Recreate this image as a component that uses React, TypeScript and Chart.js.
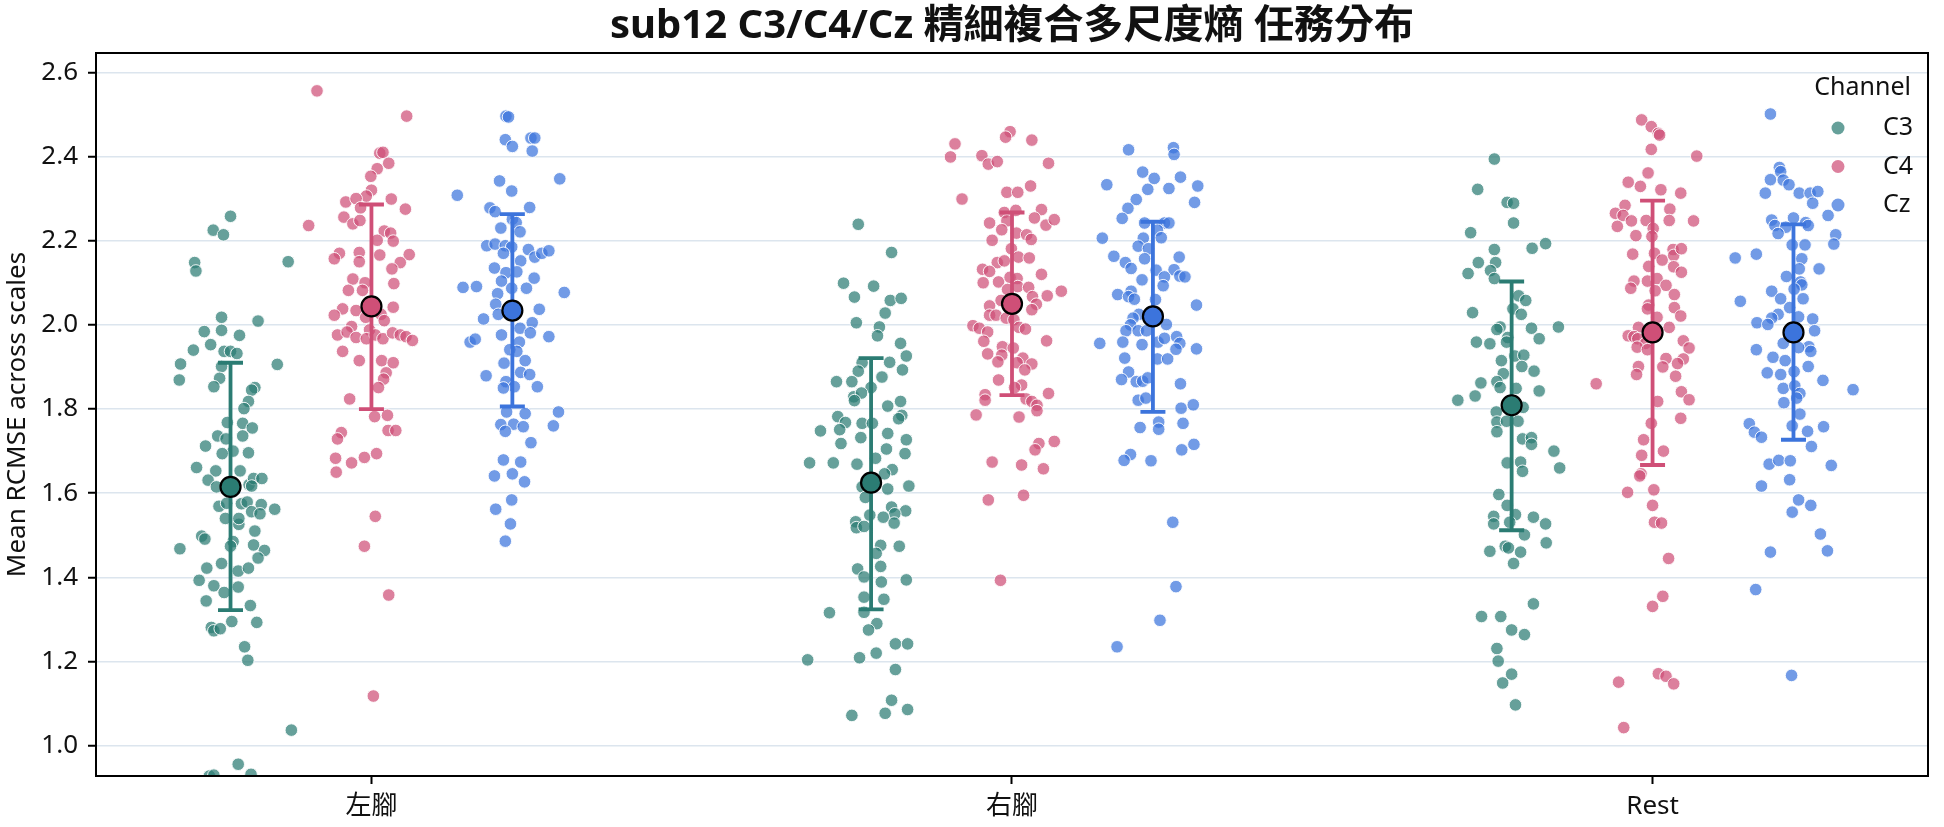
import { useEffect, useRef } from 'react';
import { Chart, registerables } from 'chart.js';

Chart.register(...registerables);

const FONT = "'Noto Sans', 'Noto Sans CJK TC', sans-serif";
const TITLE = 'sub12 C3/C4/Cz 精細複合多尺度熵 任務分布';
const Y_LABEL = 'Mean RCMSE across scales';
const LEGEND_TITLE = 'Channel';
const CATEGORIES = ['左腳', '右腳', 'Rest'];
const CHANNELS = ['C3', 'C4', 'Cz'];
const Y_TICKS = [1.0, 1.2, 1.4, 1.6, 1.8, 2.0, 2.2, 2.4, 2.6];

// each point: [jitter (category units), value]
const C3_LEFT: [number, number][] = [[0,2.258],[-0.027,2.225],[-0.011,2.214],[-0.056,2.148],[-0.054,2.128],[0.090,2.150],[-0.014,2.018],[0.043,2.009],[-0.041,1.984],[-0.014,1.987],[0.014,1.975],[-0.058,1.940],[-0.031,1.953],[-0.010,1.937],[0,1.937],[0.010,1.932],[-0.078,1.907],[-0.080,1.869],[-0.014,1.901],[-0.017,1.873],[-0.026,1.853],[0.073,1.906],[0.038,1.851],[0.033,1.845],[0.028,1.818],[0.021,1.801],[-0.005,1.768],[0.019,1.766],[0.034,1.755],[-0.020,1.736],[0.019,1.736],[-0.007,1.729],[-0.039,1.712],[0.004,1.700],[-0.013,1.694],[0.028,1.696],[-0.053,1.661],[-0.023,1.653],[0.015,1.653],[-0.035,1.631],[-0.022,1.615],[0.029,1.620],[0.036,1.635],[0.049,1.635],[0.033,1.617],[-0.018,1.569],[-0.006,1.576],[0.017,1.575],[0.026,1.579],[0.048,1.573],[0.069,1.562],[0.033,1.556],[0.046,1.551],[-0.008,1.540],[0.013,1.526],[0.013,1.540],[0.038,1.510],[-0.045,1.498],[-0.040,1.491],[-0.079,1.468],[0.004,1.485],[0,1.474],[0.036,1.477],[0.053,1.464],[0.043,1.446],[-0.014,1.433],[-0.037,1.422],[0.012,1.415],[0.028,1.422],[-0.049,1.393],[-0.026,1.380],[-0.010,1.364],[0.012,1.377],[-0.038,1.344],[0.031,1.333],[0.002,1.295],[0.041,1.293],[-0.030,1.281],[-0.026,1.273],[-0.016,1.278],[0.022,1.235],[0.027,1.203],[0.095,1.037],[0.012,0.956],[-0.033,0.928],[-0.026,0.930],[0.032,0.932]];
const C4_LEFT: [number, number][] = [[-0.085,2.556],[0.055,2.496],[0.013,2.408],[0.018,2.410],[0.027,2.384],[0.009,2.371],[-0.001,2.353],[0,2.320],[0.031,2.299],[-0.008,2.306],[-0.040,2.292],[-0.024,2.300],[-0.017,2.278],[0.053,2.275],[-0.043,2.256],[-0.029,2.240],[-0.018,2.248],[-0.098,2.236],[0.020,2.223],[0.030,2.218],[0.009,2.201],[0.034,2.199],[-0.050,2.170],[-0.058,2.157],[-0.019,2.172],[-0.019,2.150],[0.013,2.166],[0.059,2.167],[0.045,2.148],[0.032,2.133],[-0.029,2.109],[-0.010,2.100],[0.035,2.098],[-0.036,2.082],[-0.014,2.082],[-0.045,2.038],[-0.058,2.023],[-0.024,2.034],[0.034,2.042],[0.015,2.025],[-0.009,2.018],[-0.031,1.996],[0.020,2.010],[-0.053,1.976],[-0.038,1.983],[-0.024,1.970],[-0.003,1.988],[-0.008,1.967],[0.006,1.976],[0.018,1.967],[0.033,1.981],[0.045,1.976],[0.054,1.972],[0.064,1.963],[-0.045,1.937],[-0.019,1.915],[0.016,1.915],[0.034,1.910],[0.023,1.886],[0.019,1.871],[0.011,1.851],[-0.034,1.824],[0.005,1.782],[0.025,1.785],[0.026,1.749],[0.038,1.749],[-0.047,1.744],[-0.053,1.729],[-0.056,1.683],[-0.031,1.672],[-0.011,1.685],[0.008,1.694],[-0.055,1.650],[0.006,1.545],[-0.011,1.474],[0.027,1.358],[0.003,1.118]];
const CZ_LEFT: [number, number][] = [[-0.010,2.496],[-0.006,2.494],[-0.011,2.440],[0,2.424],[0.029,2.444],[0.035,2.444],[0.031,2.413],[-0.020,2.342],[0.074,2.347],[-0.086,2.308],[-0.001,2.318],[-0.035,2.278],[-0.027,2.269],[0.027,2.279],[0,2.251],[0.006,2.243],[-0.018,2.230],[0.012,2.221],[-0.040,2.188],[-0.027,2.192],[-0.011,2.188],[-0.001,2.185],[-0.014,2.170],[0.025,2.179],[0.013,2.152],[0.035,2.161],[0.046,2.170],[0.057,2.176],[-0.028,2.135],[-0.010,2.124],[0.007,2.126],[0.034,2.111],[-0.017,2.104],[-0.001,2.087],[-0.077,2.089],[-0.056,2.091],[0.022,2.087],[0.081,2.077],[-0.023,2.074],[-0.026,2.049],[-0.022,2.025],[0.042,2.037],[-0.045,2.014],[0.031,2.005],[0.012,1.992],[0.028,1.981],[-0.017,1.976],[-0.066,1.959],[-0.058,1.966],[0.011,1.959],[0.057,1.972],[-0.004,1.941],[0.007,1.937],[-0.013,1.909],[0.020,1.915],[-0.041,1.879],[0.013,1.887],[0.027,1.882],[-0.010,1.865],[0.003,1.853],[0.039,1.853],[-0.014,1.850],[-0.009,1.793],[0.020,1.789],[0.072,1.793],[-0.018,1.763],[0.002,1.764],[0.017,1.758],[-0.011,1.747],[0.064,1.760],[0.029,1.720],[-0.014,1.679],[0.013,1.674],[-0.028,1.641],[0,1.646],[0.019,1.627],[-0.001,1.584],[-0.026,1.562],[-0.003,1.527],[-0.011,1.486]];
const C3_RIGHT: [number, number][] = [[-0.020,2.239],[0.032,2.172],[-0.043,2.099],[0.004,2.092],[-0.026,2.066],[0.030,2.058],[0.047,2.063],[0.022,2.028],[-0.023,2.005],[0.013,1.995],[0.010,1.974],[0.046,1.956],[0.055,1.926],[-0.014,1.910],[0.029,1.911],[0.049,1.893],[-0.020,1.890],[0.017,1.876],[-0.054,1.865],[-0.030,1.865],[0,1.851],[-0.027,1.829],[-0.015,1.838],[-0.026,1.820],[0.046,1.818],[0.026,1.807],[0.048,1.785],[-0.052,1.782],[-0.040,1.768],[-0.014,1.766],[0.002,1.766],[0.043,1.777],[-0.079,1.748],[-0.049,1.751],[0.026,1.742],[-0.047,1.718],[-0.016,1.732],[0.055,1.727],[0.024,1.705],[0.053,1.694],[0.007,1.683],[-0.096,1.672],[-0.059,1.672],[-0.022,1.669],[0.033,1.656],[0.021,1.646],[-0.014,1.615],[0.026,1.610],[0.059,1.617],[-0.009,1.590],[0.032,1.567],[0.054,1.558],[0.037,1.551],[-0.002,1.548],[0.019,1.543],[0.036,1.529],[-0.024,1.532],[-0.023,1.518],[-0.011,1.521],[0.015,1.476],[0.044,1.474],[0.008,1.457],[-0.021,1.420],[0.015,1.426],[-0.011,1.401],[0.016,1.389],[0.055,1.394],[-0.011,1.353],[0.020,1.348],[-0.065,1.316],[-0.011,1.317],[0.009,1.290],[-0.004,1.275],[0.038,1.242],[0.057,1.242],[0.008,1.220],[-0.018,1.209],[-0.099,1.204],[0.038,1.181],[0.032,1.108],[-0.030,1.072],[0.022,1.077],[0.057,1.086]];
const C4_RIGHT: [number, number][] = [[-0.003,2.459],[-0.010,2.446],[-0.089,2.430],[0.031,2.439],[-0.096,2.399],[-0.047,2.402],[-0.037,2.382],[-0.023,2.388],[0.057,2.384],[-0.078,2.299],[-0.008,2.315],[0.009,2.315],[0.029,2.330],[-0.035,2.242],[-0.012,2.267],[0.006,2.272],[0.046,2.274],[-0.008,2.247],[0.035,2.254],[0.053,2.237],[0.066,2.250],[-0.016,2.226],[-0.031,2.201],[0.007,2.218],[0.023,2.214],[0.030,2.203],[-0.001,2.181],[0.010,2.161],[0.027,2.159],[-0.023,2.148],[-0.012,2.152],[-0.046,2.132],[-0.035,2.127],[0.046,2.120],[-0.045,2.100],[-0.021,2.102],[-0.003,2.113],[0.008,2.110],[-0.007,2.084],[0.009,2.091],[0.026,2.089],[0.077,2.080],[0.055,2.069],[0.032,2.067],[0.038,2.049],[-0.017,2.058],[-0.035,2.045],[0.031,2.036],[-0.035,2.023],[-0.025,2.023],[-0.009,2.016],[0.003,2.012],[-0.061,1.998],[-0.051,1.992],[-0.038,1.983],[0.011,1.994],[0.021,1.990],[-0.044,1.961],[0.054,1.962],[-0.015,1.948],[0.002,1.945],[-0.038,1.931],[-0.016,1.928],[0.017,1.921],[0.031,1.907],[-0.022,1.912],[0.008,1.910],[0.020,1.893],[-0.021,1.869],[0.015,1.857],[0.004,1.851],[-0.042,1.834],[-0.042,1.821],[0.057,1.837],[0.022,1.824],[0.031,1.818],[0.039,1.809],[0.039,1.796],[-0.056,1.786],[0.011,1.781],[0.042,1.718],[0.036,1.703],[0.066,1.723],[-0.031,1.674],[0.015,1.667],[0.049,1.658],[-0.037,1.584],[0.018,1.595],[-0.018,1.393]];
const CZ_RIGHT: [number, number][] = [[-0.038,2.416],[0.032,2.421],[0.033,2.405],[-0.016,2.363],[-0.072,2.333],[0.002,2.348],[0.043,2.351],[0.070,2.330],[-0.008,2.322],[0.025,2.324],[-0.026,2.298],[0.065,2.291],[-0.039,2.277],[-0.048,2.253],[-0.013,2.242],[0.018,2.242],[0.025,2.242],[0.007,2.225],[-0.079,2.206],[-0.015,2.206],[0.013,2.207],[-0.023,2.187],[-0.007,2.181],[-0.061,2.163],[-0.013,2.157],[0.041,2.161],[-0.043,2.148],[-0.034,2.134],[0.005,2.130],[0.033,2.131],[0.042,2.116],[0.050,2.114],[0.018,2.114],[-0.017,2.107],[0.016,2.093],[-0.055,2.072],[-0.034,2.080],[-0.038,2.067],[-0.029,2.061],[0.004,2.060],[0.068,2.047],[-0.022,2.025],[-0.031,2.016],[0.021,2.001],[-0.035,2.000],[-0.042,1.986],[-0.023,1.986],[-0.010,1.986],[-0.083,1.956],[-0.047,1.959],[-0.017,1.953],[0.008,1.959],[0.018,1.968],[0.037,1.972],[0.042,1.956],[0.036,1.942],[0.068,1.943],[-0.044,1.921],[0.007,1.919],[0.023,1.919],[-0.038,1.888],[-0.049,1.870],[-0.026,1.865],[-0.016,1.866],[-0.008,1.874],[0.043,1.860],[-0.023,1.821],[-0.011,1.826],[0.044,1.802],[0.063,1.810],[0.009,1.769],[0.009,1.752],[-0.020,1.756],[0.047,1.766],[-0.035,1.692],[-0.045,1.678],[-0.003,1.677],[0.045,1.703],[0.064,1.716],[0.031,1.531],[0.036,1.378],[0.011,1.298],[-0.056,1.235]];
const C3_REST: [number, number][] = [[-0.027,2.394],[-0.053,2.322],[-0.007,2.291],[0.003,2.289],[0.003,2.242],[-0.064,2.219],[-0.027,2.179],[0.032,2.182],[0.053,2.193],[-0.052,2.148],[-0.025,2.148],[-0.068,2.122],[-0.033,2.129],[-0.027,2.110],[0.011,2.069],[0.022,2.058],[0.002,2.038],[0.015,2.025],[-0.061,2.029],[-0.018,1.995],[-0.023,1.989],[-0.006,1.970],[0.031,1.992],[0.043,1.967],[0.073,1.995],[-0.055,1.959],[-0.034,1.955],[-0.008,1.959],[0.005,1.926],[0.019,1.928],[-0.016,1.915],[0.016,1.901],[0.035,1.890],[-0.013,1.884],[-0.048,1.862],[-0.023,1.865],[-0.018,1.851],[0.007,1.849],[0.043,1.843],[-0.084,1.821],[-0.057,1.831],[-0.024,1.793],[0.018,1.804],[-0.023,1.769],[-0.008,1.771],[0.010,1.771],[-0.023,1.746],[0.017,1.729],[0.031,1.732],[0.031,1.716],[0.066,1.700],[-0.007,1.672],[0.014,1.674],[0.017,1.652],[0.075,1.660],[-0.020,1.597],[-0.007,1.571],[0.006,1.549],[-0.028,1.545],[-0.028,1.527],[-0.003,1.531],[0.034,1.543],[0.053,1.527],[0.020,1.501],[0.054,1.482],[-0.034,1.462],[-0.010,1.474],[-0.005,1.470],[0.014,1.460],[0.003,1.433],[0.034,1.337],[-0.047,1.307],[-0.017,1.307],[0,1.275],[0.020,1.264],[-0.023,1.231],[-0.021,1.201],[0,1.170],[-0.014,1.149],[0.006,1.097]];
const C4_REST: [number, number][] = [[-0.017,2.487],[-0.002,2.471],[0.009,2.455],[0.011,2.451],[-0.002,2.417],[0.069,2.401],[-0.007,2.361],[-0.038,2.339],[-0.019,2.329],[0.013,2.321],[0.044,2.313],[-0.043,2.284],[0.027,2.275],[-0.058,2.265],[-0.046,2.260],[-0.033,2.247],[-0.055,2.234],[-0.010,2.248],[0.026,2.248],[0.064,2.247],[-0.026,2.212],[0.001,2.229],[-0.001,2.210],[-0.031,2.168],[0.003,2.170],[0.015,2.154],[0.032,2.179],[0.033,2.165],[0.045,2.181],[0.033,2.138],[-0.006,2.139],[0.045,2.125],[-0.029,2.104],[-0.008,2.104],[0.007,2.110],[-0.034,2.087],[0.021,2.094],[0.004,2.081],[0.034,2.072],[-0.006,2.047],[-0.008,2.038],[0.034,2.041],[0.044,2.021],[0.007,2.018],[-0.022,1.994],[0.026,1.994],[-0.038,1.974],[-0.029,1.972],[-0.023,1.967],[-0.011,1.956],[-0.024,1.947],[-0.008,1.941],[0.048,1.962],[0.057,1.945],[0.021,1.920],[0.048,1.919],[0.039,1.908],[-0.022,1.901],[0.016,1.900],[-0.025,1.882],[0.036,1.878],[-0.088,1.860],[0.045,1.841],[0.057,1.822],[0.008,1.818],[0.044,1.778],[-0.002,1.766],[-0.014,1.727],[0.017,1.700],[-0.017,1.690],[-0.018,1.646],[-0.020,1.641],[-0.039,1.602],[0.002,1.608],[0,1.571],[0.003,1.531],[0.014,1.529],[0.025,1.445],[0.016,1.355],[0,1.331],[-0.053,1.151],[0.009,1.171],[0.021,1.165],[0.033,1.147],[-0.045,1.043]];
const CZ_REST: [number, number][] = [[-0.036,2.501],[-0.022,2.374],[-0.020,2.364],[-0.036,2.345],[-0.016,2.344],[-0.007,2.333],[-0.044,2.313],[0.009,2.313],[0.026,2.313],[0.038,2.317],[0.030,2.289],[0.054,2.260],[-0.034,2.249],[0,2.254],[-0.029,2.236],[-0.012,2.232],[0.019,2.243],[0.023,2.236],[-0.024,2.217],[0.066,2.214],[0.063,2.192],[-0.002,2.190],[0.018,2.190],[-0.091,2.159],[-0.058,2.168],[0.013,2.157],[0.009,2.133],[0.040,2.133],[-0.011,2.115],[0.011,2.102],[0.013,2.095],[0.001,2.085],[-0.034,2.080],[-0.083,2.056],[-0.020,2.062],[0.015,2.062],[-0.006,2.041],[-0.024,2.025],[-0.034,2.016],[0.008,2.019],[-0.057,2.005],[-0.040,2.001],[0.030,2.014],[0.033,1.986],[0.024,1.948],[0.027,1.937],[-0.016,1.956],[-0.058,1.941],[-0.032,1.923],[-0.013,1.915],[0.008,1.946],[0.023,1.901],[-0.041,1.886],[-0.020,1.882],[0.001,1.889],[0.046,1.868],[0.093,1.846],[-0.016,1.849],[0.002,1.855],[0.010,1.837],[0.005,1.826],[-0.015,1.815],[0.010,1.788],[-0.069,1.765],[-0.061,1.745],[-0.050,1.733],[-0.002,1.760],[0.022,1.747],[0.047,1.758],[0.028,1.711],[-0.038,1.669],[-0.023,1.678],[-0.005,1.677],[0.059,1.666],[-0.050,1.617],[-0.006,1.632],[0.008,1.584],[-0.002,1.555],[0.027,1.571],[0.042,1.503],[-0.036,1.460],[0.053,1.463],[-0.059,1.371],[-0.003,1.167]];

// mean and error-bar ends per category (左腳, 右腳, Rest)
const C3_MEAN = [1.615, 1.625, 1.809];
const C3_LOW = [1.322, 1.324, 1.512];
const C3_HIGH = [1.910, 1.921, 2.103];
const C4_MEAN = [2.044, 2.050, 1.982];
const C4_LOW = [1.800, 1.833, 1.667];
const C4_HIGH = [2.286, 2.267, 2.295];
const CZ_MEAN = [2.034, 2.020, 1.982];
const CZ_LOW = [1.806, 1.793, 1.727];
const CZ_HIGH = [2.263, 2.245, 2.239];

const POINTS = [[C3_LEFT, C3_RIGHT, C3_REST], [C4_LEFT, C4_RIGHT, C4_REST], [CZ_LEFT, CZ_RIGHT, CZ_REST]];
const MEANS = [C3_MEAN, C4_MEAN, CZ_MEAN];
const LOWS = [C3_LOW, C4_LOW, CZ_LOW];
const HIGHS = [C3_HIGH, C4_HIGH, CZ_HIGH];

const DODGE = [-0.22, 0, 0.22];
const CAP = 0.0195;
const SOLID = ['#2b7c73', '#cf4f77', '#3c74dc'];
const FADED = ['rgba(43,124,115,0.72)', 'rgba(207,79,119,0.72)', 'rgba(60,116,220,0.72)'];

const titlePlugin = {
  id: 'centeredTitle',
  afterDraw(chart: any) {
    const { ctx, chartArea } = chart;
    ctx.save();
    ctx.font = `bold 40px ${FONT}`;
    ctx.fillStyle = '#111';
    ctx.textAlign = 'center';
    ctx.textBaseline = 'middle';
    ctx.fillText(TITLE, (chartArea.left + chartArea.right) / 2, 27);
    ctx.restore();
  },
};

const frameLegendPlugin = {
  id: 'frameLegend',
  afterDatasetsDraw(chart: any) {
    const { ctx, chartArea } = chart;
    ctx.save();
    ctx.strokeStyle = '#000';
    ctx.lineWidth = 2;
    ctx.strokeRect(chartArea.left, chartArea.top, chartArea.right - chartArea.left, chartArea.bottom - chartArea.top);
    ctx.font = `25px ${FONT}`;
    ctx.fillStyle = '#111';
    ctx.textBaseline = 'middle';
    ctx.textAlign = 'right';
    ctx.fillText(LEGEND_TITLE, chartArea.right - 17, chartArea.top + 35);
    CHANNELS.forEach((name, i) => {
      const y = chartArea.top + 75 + i * 38.5;
      ctx.beginPath();
      ctx.arc(chartArea.right - 90, y, 6.5, 0, Math.PI * 2);
      ctx.fillStyle = FADED[i];
      ctx.fill();
      ctx.fillStyle = '#111';
      ctx.textAlign = 'left';
      ctx.fillText(name, chartArea.right - 45, y);
    });
    ctx.restore();
  },
};

export default function App() {
  const ref = useRef<HTMLCanvasElement | null>(null);

  useEffect(() => {
    document.body.style.margin = '0';
    const canvas = ref.current;
    if (!canvas) return;

    const datasets: any[] = [];
    CHANNELS.forEach((name, i) => {
      datasets.push({
        label: name + ' mean',
        data: MEANS[i].map((m, c) => ({ x: c + DODGE[i], y: m })),
        pointRadius: 10,
        pointBackgroundColor: SOLID[i],
        pointBorderColor: '#000',
        pointBorderWidth: 2.2,
        showLine: false,
        order: 0,
      });
      const bars: any[] = [];
      MEANS[i].forEach((_, c) => {
        const x = c + DODGE[i];
        bars.push({ x, y: LOWS[i][c] }, { x, y: HIGHS[i][c] }, { x, y: null });
        bars.push({ x: x - CAP, y: HIGHS[i][c] }, { x: x + CAP, y: HIGHS[i][c] }, { x, y: null });
        bars.push({ x: x - CAP, y: LOWS[i][c] }, { x: x + CAP, y: LOWS[i][c] }, { x, y: null });
      });
      datasets.push({
        label: name + ' sd',
        data: bars,
        showLine: true,
        spanGaps: false,
        borderColor: SOLID[i],
        borderWidth: 3.8,
        pointRadius: 0,
        order: 1,
      });
    });
    CHANNELS.forEach((name, i) => {
      const pts: any[] = [];
      POINTS[i].forEach((group, c) => {
        group.forEach(([j, v]) => pts.push({ x: c + DODGE[i] + j, y: v }));
      });
      datasets.push({
        label: name,
        data: pts,
        pointRadius: 6.3,
        pointBackgroundColor: FADED[i],
        pointBorderColor: 'rgba(255,255,255,0.9)',
        pointBorderWidth: 1,
        showLine: false,
        clip: 0,
        order: 2 + i,
      });
    });

    const chart = new Chart(canvas, {
      type: 'scatter',
      data: { datasets },
      options: {
        responsive: false,
        animation: false,
        devicePixelRatio: 1,
        events: [],
        layout: { padding: { top: 53, right: 16, left: 0, bottom: 0 } },
        plugins: { legend: { display: false }, tooltip: { enabled: false }, title: { display: false } },
        scales: {
          x: {
            type: 'linear',
            min: -0.43,
            max: 2.43,
            afterBuildTicks: (s: any) => { s.ticks = CATEGORIES.map((_, i) => ({ value: i })); },
            afterFit: (s: any) => { s.height = 51; },
            ticks: {
              callback: (v: any) => CATEGORIES[Math.round(Number(v))],
              font: { family: FONT, size: 26 },
              color: '#111',
              padding: 7,
              autoSkip: false,
              maxRotation: 0,
            },
            grid: { drawOnChartArea: false, drawTicks: true, tickLength: 8, tickColor: '#000', tickWidth: 2 },
            border: { display: false },
          },
          y: {
            type: 'linear',
            min: 0.928,
            max: 2.646,
            afterBuildTicks: (s: any) => { s.ticks = Y_TICKS.map((v) => ({ value: v })); },
            afterFit: (s: any) => { s.width = 96; },
            ticks: {
              callback: (v: any) => Number(v).toFixed(1),
              font: { family: FONT, size: 26 },
              color: '#111',
              padding: 10,
            },
            grid: { color: '#dce5ee', lineWidth: 1.5, tickColor: '#000', tickWidth: 2, tickLength: 8 },
            border: { display: false },
            title: {
              display: true,
              text: Y_LABEL,
              font: { family: FONT, size: 26 },
              color: '#111',
              padding: { top: 2, bottom: 0 },
            },
          },
        },
      },
      plugins: [titlePlugin, frameLegendPlugin],
    });
    return () => chart.destroy();
  }, []);

  return (
    <div style={{ width: 1944, height: 827, background: '#fff' }}>
      <canvas ref={ref} width={1944} height={827} style={{ display: 'block' }} />
    </div>
  );
}
